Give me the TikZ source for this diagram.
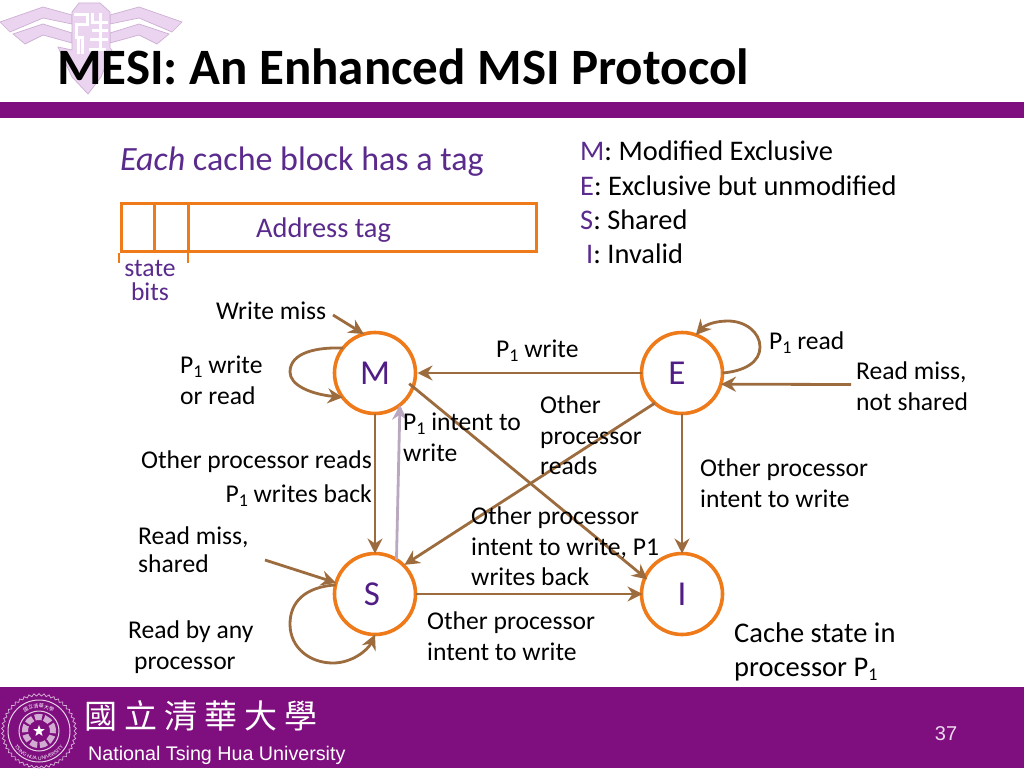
\documentclass[tikz,border=0pt]{standalone}
\usepackage{fontspec}
\setmainfont{Carlito}
\newfontfamily\cjkf{Noto Sans CJK TC}
\newfontfamily\arialf{Liberation Sans}
\usetikzlibrary{shapes.geometric,arrows.meta,decorations.text}
\definecolor{barpurple}{HTML}{7F0F7F}
\definecolor{txtpurple}{HTML}{5A2A8C}
\definecolor{stpurple}{HTML}{4F1D85}
\definecolor{orangeline}{HTML}{EE7A1A}
\definecolor{brownline}{HTML}{9C6C3E}
\definecolor{greyline}{HTML}{B9A8C0}
\definecolor{logofill}{HTML}{EBD4EF}
\definecolor{logoline}{HTML}{CDB0D3}
\newcommand{\subone}{\raisebox{-4pt}{\fontsize{18}{18}\selectfont 1}}
\tikzset{
  x=1pt,y=-1pt,
  state/.style={circle,draw=orangeline,line width=3.6pt,fill=white,minimum size=81pt,inner sep=0pt,outer sep=0pt,text=stpurple,font=\fontsize{35}{35}\selectfont},
  conn/.style={draw=brownline,line width=2.8pt,-{Stealth[length=15pt,width=15pt,inset=5pt]}},
  lab/.style={anchor=north west,inner sep=0pt,align=left,font=\fontsize{25.6}{30.5}\selectfont,text=black},
  labr/.style={anchor=base east,inner sep=0pt,font=\fontsize{25.6}{30.5}\selectfont,text=black},
  big/.style={anchor=base west,inner sep=0pt,font=\fontsize{28.4}{34}\selectfont},
  wing/.style={fill=logofill,draw=logoline,line width=.7pt},
  tagbox/.style={draw=orangeline,line width=3pt},
}
\begin{document}
\begin{tikzpicture}
\useasboundingbox (0,0) rectangle (1024,768);
\fill[white] (0,0) rectangle (1024,768);
% logo
\path[wing] (0,22) -- (43,7) -- (72,15) -- (72,24) -- (43,18) -- (10,32) -- cycle;
\path[wing] (13,34) -- (43,24) -- (72,33) -- (72,43) -- (43,35) -- (25,44) -- cycle;
\path[wing] (182,22) -- (139,7) -- (110,15) -- (110,24) -- (139,18) -- (172,32) -- cycle;
\path[wing] (169,34) -- (139,24) -- (110,33) -- (110,43) -- (139,35) -- (157,44) -- cycle;
\path[wing] (72,12) -- (79,3) -- (100,3) -- (110,12) -- (110,48) -- (112,50) -- (101,77) -- (88,94) -- (72,77) -- (58,47) -- (72,50) -- cycle;
\draw[white,line width=3pt] (74,15) -- (87,15) -- (87,25) -- (76,25) -- (76,38) -- (82,38) -- (82,54) (78,38) -- (78,54) (92,13) -- (92,23) -- (108,23) (92,31) -- (108,31) (90,40) -- (108,40) (100,13) -- (100,50) (89,50) -- (106,50);
% bars
\fill[barpurple] (0,102) rectangle (1024,118);
\fill[barpurple] (0,687) rectangle (1024,768);
% title
\node[anchor=base west,inner sep=0pt,font=\fontsize{51}{54}\selectfont\bfseries] (title) at (57,84) {MESI: An Enhanced MSI Protocol};
% header text
\node[anchor=base west,inner sep=0pt,font=\fontsize{34}{36}\selectfont,text=txtpurple] (each) at (120,170) {\itshape Each\upshape{} cache block has a tag};
\node[big] (lm) at (580,160) {\textcolor{txtpurple}{M}: Modified Exclusive};
\node[big] (le) at (580,195) {\textcolor{txtpurple}{E}: Exclusive but unmodified};
\node[big] (ls) at (580,229) {\textcolor{txtpurple}{S}: Shared};
\node[big] (li) at (586,263) {\textcolor{txtpurple}{I}: Invalid};
% tag box
\draw[tagbox] (121,203) rectangle (536,251);
\draw[tagbox] (154,203) -- (154,251) (188,203) -- (188,251);
\draw[draw=orangeline,line width=2pt] (119,253) -- (119,263) (188,253) -- (188,263);
\node[big,text=txtpurple] (addr) at (256,237) {Address tag};
\node[anchor=north,inner sep=0pt,align=center,font=\fontsize{25.6}{24.5}\selectfont,text=txtpurple] (bits) at (150,260) {state\\bits};
% states
\node[state] (M) at (375,373) {M};
\node[state] (E) at (682,373) {E\kern10pt};
\node[state] (S) at (375,594) {S\kern6pt};
\node[state] (I) at (682,594) {I};
% free ends
\coordinate (wm) at (333,315);
\coordinate (rn) at (851,384.5);
\coordinate (rs) at (265,560);
% connectors
\draw[conn] (wm) -- (M.106);
\draw[conn,shorten >=2pt] (E.west) -- (M.east);
\draw[conn] (rn) -- (E.-16);
\draw[conn] (M.south) -- (S.north);
\draw[conn] (E.south) -- (I.north);
\draw[conn,shorten >=-1pt] (S.east) -- (I.west);
\draw[conn,shorten <=-5pt,shorten >=-3pt] (M.-20) -- (I.156);
\draw[conn,shorten >=1pt] (E.-132) -- (S.45);
\draw[conn] (rs) -- (S.164);
\draw[conn,draw=greyline] (S.58) -- (M.-52);
\draw[conn] (M.142) .. controls (318,347) and (290,352) .. (290,372) .. controls (290,385) and (310,394) .. (M.-143);
\draw[conn] (E.0) .. controls (745,371) and (760,362) .. (760,347) .. controls (760,332) and (745,321) .. (728,321) .. controls (715,321) and (705,325) .. (E.70);
\draw[conn] (S.167) .. controls (305,587) and (290,602) .. (290,624) .. controls (290,648) and (310,663) .. (333,663) .. controls (352,663) and (368,650) .. (S.-90);
% labels
\node[lab,anchor=base west] (lwm) at (216,319) {Write miss};
\node[lab] (lp1) at (180,356) {P\subone{} write\\or read};
\node[lab,anchor=base west] (lpw) at (496,357) {P\subone{} write};
\node[lab,anchor=base west] (lpr) at (769,349) {P\subone{} read};
\node[lab] (lrn) at (856,362) {Read miss,\\not shared};
\node[labr] (lor) at (372,468) {Other processor reads};
\node[labr] (lwb) at (372,502) {P\subone{} writes back};
\node[lab,font=\fontsize{25.6}{28}\selectfont] (lrs) at (138,527) {Read miss,\\shared};
\node[lab] (lany) at (128,621) {Read by any\\\hspace{6pt}processor};
\node[lab] (lopr) at (540,396) {Other\\processor\\reads};
\node[lab] (lint) at (403,413) {P\subone{} intent to\\write};
\node[lab] (loi) at (700,459) {Other processor\\intent to write};
\node[lab] (lob) at (471,507) {Other processor\\intent to write, P1\\writes back};
\node[lab] (lsi) at (427,612) {Other processor\\intent to write};
\node[lab,font=\fontsize{28.5}{34}\selectfont] (lcs) at (734,623) {Cache state in\\processor P\subone};
% footer
\node[anchor=base west,inner sep=0pt,font=\cjkf\fontsize{33}{33}\selectfont,text=white] (cjk) at (84,728) {國\hspace{7pt}立\hspace{7pt}清\hspace{7pt}華\hspace{7pt}大\hspace{7pt}學};
\node[anchor=base west,inner sep=0pt,font=\arialf\fontsize{19.7}{20}\selectfont,text=white] (ntu) at (88,760) {National Tsing Hua University};
\node[anchor=base,inner sep=0pt,font=\arialf\fontsize{20}{20}\selectfont,text=white!85!barpurple] (pg) at (946,740) {37};
% seal
\node[star,star points=46,star point ratio=1.07,minimum size=75pt,inner sep=0pt,draw=white!70!barpurple,line width=.7pt] (seal) at (39,731) {};
\draw[white!80!barpurple,line width=1pt] (seal.center) circle[radius=31pt] (seal.center) circle[radius=20pt];
\draw[white!65!barpurple,line width=6pt,dash pattern=on 7pt off 2.5pt] (seal.center) circle[radius=14pt];
\node[star,star points=5,star point ratio=2.4,minimum size=12pt,inner sep=0pt,fill=white] (sealstar) at (39,731) {};
\path[decorate,decoration={text along path,text align=center,text={|\arialf\fontsize{5}{5}\selectfont\color{white}|TSING HUA UNIVERSITY}}] (10,733.5) arc[start angle=185,end angle=355,radius=29pt];
\path[decorate,decoration={text along path,text align=center,text={|\cjkf\fontsize{5}{5}\selectfont\color{white}|國立清華大學}}] (19,719) arc[start angle=149,end angle=31,radius=23pt];
\end{tikzpicture}
\end{document}
